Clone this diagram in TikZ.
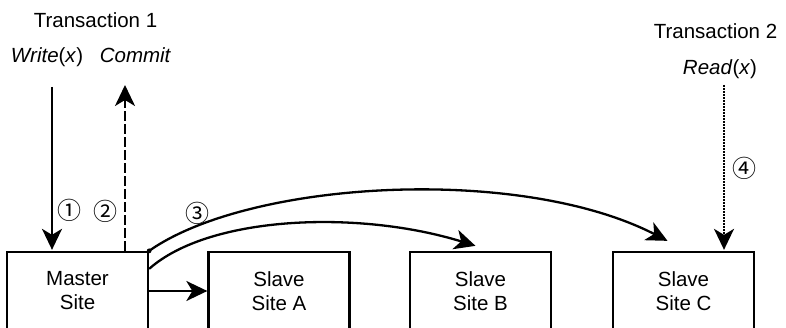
\documentclass[tikz,border=0pt]{standalone}
\usepackage{fontspec}
\setmainfont{Liberation Sans}
\newfontfamily\symfont{Noto Sans CJK JP}
\usetikzlibrary{arrows.meta}
\tikzset{
  site/.style={draw, line width=2.3pt, minimum width=141pt, minimum height=78pt, inner sep=0pt,
    align=center, font=\fontsize{20.5}{24}\selectfont},
  lbl/.style={anchor=base, inner sep=0pt, font=\fontsize{20.5}{24}\selectfont},
  num/.style={inner sep=0pt, font=\symfont\fontsize{24}{24}\selectfont},
  arr/.style={line width=2.3pt, -{Stealth[length=21pt,width=20pt,inset=6pt]}},
}
\begin{document}
\begin{tikzpicture}[x=1pt,y=-1pt]
\useasboundingbox (0,0) rectangle (786,328);
\clip (0,0) rectangle (786,328);
\node[site] (m) at (77.5,291) {Master\\Site};
\node[site] (a) at (279,291) {Slave\\Site A};
\node[site] (b) at (480.5,291) {Slave\\Site B};
\node[site] (c) at (683.5,291) {Slave\\Site C};

\node[lbl] (t1) at (95.5,28) {Transaction 1};
\node[lbl] (w) at (47,63) {\textit{Write}(\textit{x})};
\node[lbl] (cm) at (135.5,63) {\textit{Commit}};
\node[lbl] (t2) at (715.5,39) {Transaction 2};
\node[lbl] (r) at (720,75) {\textit{Read}(\textit{x})};

\node[num] (n1) at (69,210) {①};
\node[num] (n2) at (105,211) {②};
\node[num] (n3) at (197.5,213) {③};
\node[num] (n4) at (744.5,168) {④};

\coordinate (w1) at (52,87);
\draw[arr, shorten >=1pt] (w1) -- (w1 |- m.north);
\coordinate (c1) at (125,85);
\draw[arr, dash pattern=on 10pt off 3pt] (c1 |- m.north) -- (c1);
\coordinate (r1) at (724,85);
\draw[arr, dash pattern=on 2pt off 1pt, shorten >=1pt] (r1) -- (r1 |- c.north);

\draw[arr] (m.east) -- (a.west);
\coordinate (s2) at ([yshift=-18pt]m.north east);
\draw[arr] (s2) .. controls (210,215) and (360,210) .. ([shift={(-5pt,5pt)}]b.north);
\draw[arr] (m.north east) .. controls (250,180) and (520,165) .. ([shift={(-16pt,10pt)}]c.north);
\fill (m.north east) circle (2.4pt);
\end{tikzpicture}
\end{document}
